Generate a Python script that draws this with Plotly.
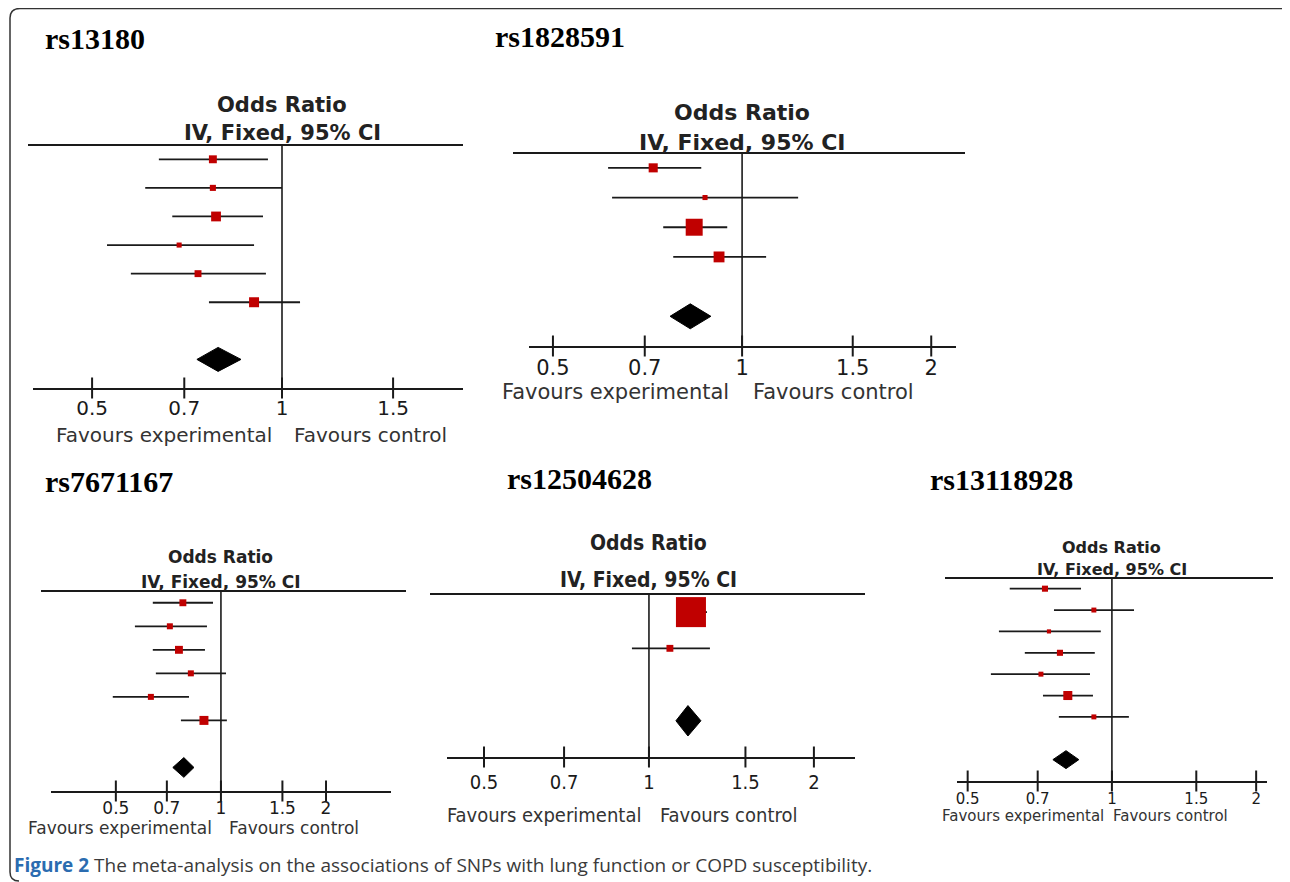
import math
import plotly.graph_objects as go

# page window is 1290x882, but the HTML body has an 8px margin: the figure is sized to fill the rest
PAGE_W, PAGE_H, OFF = 1290, 882, 8
W, H = PAGE_W - OFF, PAGE_H - OFF

# ------------------------------------------------------------------ data
titles = ["rs13180", "rs1828591", "rs7671167", "rs12504628", "rs13118928"]

# study odds ratios, 95% CI bounds, study weights (%), pooled (OR, lo, hi)
or1 = [0.777, 0.777, 0.786, 0.687, 0.736, 0.903]
lo1 = [0.638, 0.607, 0.670, 0.528, 0.576, 0.766]
hi1 = [0.950, 1.000, 0.933, 0.903, 0.943, 1.068]
w1 = [17, 10, 26, 7, 13, 27]
pooled1 = [0.792, 0.733, 0.861]

or2 = [0.722, 0.873, 0.839, 0.919]
lo2 = [0.612, 0.621, 0.749, 0.777]
hi2 = [0.861, 1.228, 0.947, 1.092]
w2 = [16, 5, 56, 23]
pooled2 = [0.827, 0.768, 0.892]

or3 = [0.778, 0.714, 0.758, 0.820, 0.630, 0.894]
lo3 = [0.638, 0.567, 0.638, 0.651, 0.490, 0.768]
hi3 = [0.949, 0.912, 0.900, 1.034, 0.810, 1.040]
w3 = [16, 12, 21, 12, 12, 27]
pooled3 = [0.783, 0.728, 0.837]

or4 = [1.193, 1.092]
lo4 = [1.125, 0.931]
hi4 = [1.276, 1.292]
w4 = [95, 5]
pooled4 = [1.178, 1.120, 1.244]

or5 = [0.725, 0.917, 0.739, 0.779, 0.711, 0.809, 0.917]
lo5 = [0.612, 0.757, 0.581, 0.658, 0.559, 0.718, 0.775]
hi5 = [0.862, 1.112, 0.948, 0.921, 0.900, 0.913, 1.085]
w5 = [15, 10, 7, 15, 10, 33, 10]
pooled5 = [0.802, 0.753, 0.853]

tick_vals = [0.5, 0.7, 1, 1.5, 2]
tick_text = ["0.5", "0.7", "1", "1.5", "2"]

head1 = "Odds Ratio"
head2 = "IV, Fixed, 95% CI"
fav_left = "Favours experimental"
fav_right = "Favours control"
caption_bold = "Figure 2"
caption_rest = " The meta-analysis on the associations of SNPs with lung function or COPD susceptibility."

series = [
    (or1, lo1, hi1, w1, pooled1),
    (or2, lo2, hi2, w2, pooled2),
    (or3, lo3, hi3, w3, pooled3),
    (or4, lo4, hi4, w4, pooled4),
    (or5, lo5, hi5, w5, pooled5),
]

# ------------------------------------------------------------------ layout (page pixels)
panels = [
    dict(tx=43, ty=38, ax_x=(33, 463), ax_y=(145, 388), top_x=(28, 463), xr=(0.403, 1.936),
         head_y=(105, 133), hs=21, ts=20, tl=1, fav_y=435, fdx=(-9, 11), k=1.92, font="DejaVu Sans"),
    dict(tx=493, ty=36, ax_x=(529, 956), ax_y=(153, 346), top_x=(513, 965), xr=(0.458, 2.19),
         head_y=(112, 142), hs=22, ts=21, tl=2, fav_y=392, fdx=(-12, 10), k=2.27, font="DejaVu Sans"),
    dict(tx=43, ty=481, ax_x=(51, 391), ax_y=(591, 791), top_x=(41, 406), xr=(0.326, 3.07),
         head_y=(557, 582), hs=17, ts=17, tl=1, fav_y=828, fdx=(-8, 7), k=1.73, font="DejaVu Sans"),
    dict(tx=505, ty=478, ax_x=(447, 855), ax_y=(594, 757), top_x=(430, 865), xr=(0.428, 2.377),
         head_y=(543, 580), hs=21, ts=20, tl=6, fav_y=815, fdx=(-7, 10), k=3.08,
         font="DejaVu Sans Condensed"),
    dict(tx=928, ty=479, ax_x=(957, 1267), ax_y=(578, 781), top_x=(945, 1273), xr=(0.475, 2.107),
         head_y=(547, 569), hs=16, ts=15, tl=3, fav_y=816, fdx=(-7, 0), k=1.57, font="DejaVu Sans"),
]

RED = "#c00000"
INK = "#1a1a1a"
DIAMOND_HALF = 0.42


def fx(px):
    return (px - OFF) / W


def fy(py):
    return 1 - (py - OFF) / H


fig = go.Figure()
shapes = []
annotations = []
layout_axes = {}

for i, ((ors, los, his, ws, pooled), p, title) in enumerate(zip(series, panels, titles)):
    n = len(ors)
    sfx = "" if i == 0 else str(i + 1)
    xa, ya = "x" + sfx, "y" + sfx
    ybottom, ytop = n + 3, 0.5
    rows = list(range(1, n + 1))
    y_pool = n + 2

    # confidence-interval lines
    lx, ly = [], []
    for r, a, b in zip(rows, los, his):
        lx += [a, b, None]
        ly += [r, r, None]
    fig.add_trace(go.Scatter(x=lx, y=ly, mode="lines", line=dict(color=INK, width=1.8),
                             xaxis=xa, yaxis=ya, hoverinfo="skip"))
    # line of no effect
    fig.add_trace(go.Scatter(x=[1, 1], y=[ytop, ybottom], mode="lines",
                             line=dict(color=INK, width=1.6), xaxis=xa, yaxis=ya, hoverinfo="skip"))
    # study boxes (area proportional to weight)
    fig.add_trace(go.Scatter(x=ors, y=rows, mode="markers",
                             marker=dict(symbol="square", color=RED, opacity=1,
                                         size=[p["k"] * math.sqrt(w) for w in ws],
                                         line=dict(width=0)),
                             xaxis=xa, yaxis=ya, hoverinfo="skip"))
    # pooled diamond
    est, plo, phi = pooled
    fig.add_trace(go.Scatter(x=[plo, est, phi, est, plo],
                             y=[y_pool, y_pool - DIAMOND_HALF, y_pool, y_pool + DIAMOND_HALF, y_pool],
                             mode="lines", fill="toself", fillcolor="black",
                             line=dict(color="black", width=1), xaxis=xa, yaxis=ya, hoverinfo="skip"))
    # crossing tick marks
    tv = [t for t in tick_vals if p["xr"][0] <= t <= p["xr"][1]]
    tt = [s for t, s in zip(tick_vals, tick_text) if p["xr"][0] <= t <= p["xr"][1]]
    fig.add_trace(go.Scatter(x=tv, y=[ybottom] * len(tv), mode="markers",
                             marker=dict(symbol="line-ns", size=15, line=dict(width=2, color=INK)),
                             cliponaxis=False, xaxis=xa, yaxis=ya, hoverinfo="skip"))

    layout_axes["xaxis" + sfx] = dict(
        type="log", range=[math.log10(p["xr"][0]), math.log10(p["xr"][1])],
        domain=[fx(p["ax_x"][0]), fx(p["ax_x"][1])], anchor=ya,
        showline=True, linecolor=INK, linewidth=2, showgrid=False, zeroline=False,
        tickvals=tv, ticktext=tt, ticks="outside", ticklen=p["tl"], tickcolor="rgba(0,0,0,0)",
        tickfont=dict(family=p["font"], size=p["ts"], color=INK), fixedrange=True,
    )
    layout_axes["yaxis" + sfx] = dict(
        range=[ybottom, ytop], domain=[fy(p["ax_y"][1]), fy(p["ax_y"][0])], anchor=xa,
        visible=False, showgrid=False, zeroline=False, fixedrange=True,
    )

    # top rule
    shapes.append(dict(type="line", xref="paper", yref="paper",
                       x0=fx(p["top_x"][0]), x1=fx(p["top_x"][1]),
                       y0=fy(p["ax_y"][0]), y1=fy(p["ax_y"][0]),
                       line=dict(color=INK, width=2)))

    # panel title
    annotations.append(dict(text=title, xref="paper", yref="paper", x=fx(p["tx"]), y=fy(p["ty"]),
                            xanchor="left", yanchor="middle", showarrow=False,
                            font=dict(family="Liberation Serif", size=30, color="black", weight="bold")))
    # heading
    for txt, yy in zip([head1, head2], p["head_y"]):
        annotations.append(dict(text=txt, xref=xa, yref="paper", x=0, y=fy(yy),
                                xanchor="center", yanchor="middle", showarrow=False,
                                font=dict(family=p["font"], size=p["hs"], color="#222", weight="bold")))
    # favours labels
    annotations.append(dict(text=fav_left, xref=xa, yref="paper", x=0, y=fy(p["fav_y"]),
                            xanchor="right", yanchor="middle", xshift=p["fdx"][0], showarrow=False,
                            borderpad=0, font=dict(family=p["font"], size=p["ts"], color="#333")))
    annotations.append(dict(text=fav_right, xref=xa, yref="paper", x=0, y=fy(p["fav_y"]),
                            xanchor="left", yanchor="middle", xshift=p["fdx"][1], showarrow=False,
                            borderpad=0, font=dict(family=p["font"], size=p["ts"], color="#333")))

# caption
annotations.append(dict(
    text=f"<b><span style='color:#2b6cb0'>{caption_bold}</span></b>{caption_rest}",
    xref="paper", yref="paper", x=fx(12), y=fy(865), xanchor="left", yanchor="middle",
    showarrow=False, font=dict(family="Open Sans", size=19, color="#3a3a3a")))

# outer rounded frame (left and top edges, rounded corners)
path = (f"M {fx(1290)},{fy(8.5)} L {fx(20)},{fy(8.5)} Q {fx(10)},{fy(8.5)} {fx(10)},{fy(18)} "
        f"L {fx(10)},{fy(872)} Q {fx(10)},{fy(881)} {fx(19)},{fy(881)}")
shapes.append(dict(type="path", xref="paper", yref="paper", path=path,
                   line=dict(color="#333", width=1.5)))

fig.update_layout(
    width=W, height=H, margin=dict(l=0, r=0, t=0, b=0),
    paper_bgcolor="white", plot_bgcolor="white",
    showlegend=False, hovermode=False,
    shapes=shapes, annotations=annotations,
    **layout_axes,
)

fig.write_html("out.html")
